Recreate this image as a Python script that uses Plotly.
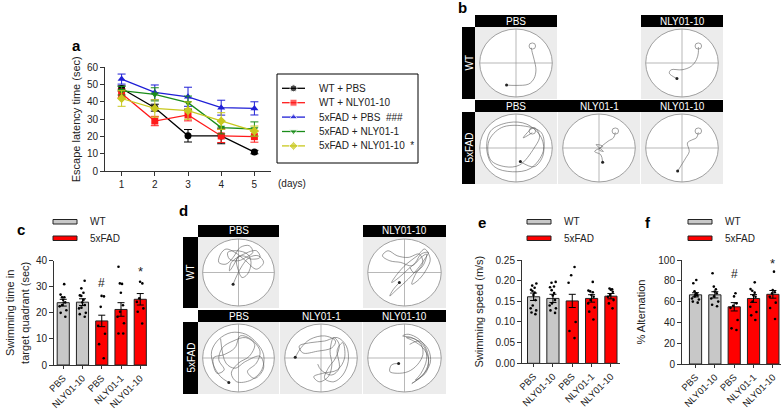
import plotly.graph_objects as go

W, H = 783, 410
FONT = "Liberation Sans, Arial, sans-serif"
GREY_BAR = "#c8c8c8"
RED_BAR = "#ff0000"

# ---------------- Panel a data ----------------
days = [1, 2, 3, 4, 5]
a_names = ["WT + PBS", "WT + NLY01-10", "5xFAD + PBS  ###", "5xFAD + NLY01-1", "5xFAD + NLY01-10  *"]
a_wt_pbs = [47.8, 36.7, 20.5, 20.4, 11.1]
a_wt_pbs_err = [1.5, 2.0, 3.6, 4.5, 1.0]
a_wt_nly10 = [44.9, 29.0, 32.5, 20.4, 20.0]
a_wt_nly10_err = [2.5, 2.7, 3.4, 3.8, 3.2]
a_fad_pbs = [53.2, 45.5, 43.0, 36.7, 36.3]
a_fad_pbs_err = [2.9, 4.3, 5.5, 4.3, 3.8]
a_fad_nly1 = [46.5, 44.4, 39.6, 25.2, 24.4]
a_fad_nly1_err = [2.5, 3.8, 3.8, 3.6, 4.1]
a_fad_nly10 = [42.0, 36.3, 35.0, 29.0, 23.2]
a_fad_nly10_err = [4.5, 5.0, 5.0, 4.8, 2.9]
a_colors = ["#000000", "#ff1a1a", "#1f1fd6", "#1a8c1a", "#c8c81e"]
a_symbols = ["circle", "square", "triangle-up", "triangle-down", "diamond"]

# ---------------- Bar panels (c, e, f) ----------------
bar_ticks = ["PBS", "NLY01-10", "PBS", "NLY01-1", "NLY01-10"]
bar_colors = [GREY_BAR, GREY_BAR, RED_BAR, RED_BAR, RED_BAR]

c_means = [23.9, 24.1, 16.9, 21.3, 25.2]
c_sem = [1.3, 1.3, 2.2, 2.6, 2.2]
c_pts_wt_pbs = [31, 27, 26, 26, 25, 24, 23, 22.5, 21, 20, 18.5]
c_pts_wt_nly10 = [32.3, 29.4, 27.7, 26.7, 26.5, 25, 24, 23, 22, 21.7, 20, 19.5, 18.5]
c_pts_fad_pbs = [26.5, 26.3, 22.3, 15, 12, 8, 2.6]
c_pts_fad_nly1 = [37.7, 31.3, 31.1, 27.7, 22.9, 20.4, 18.5, 16, 12.1, 12.1]
c_pts_fad_nly10 = [31.9, 31.3, 25.6, 24.2, 21.7, 20.4, 15.9]

e_means = [0.161, 0.157, 0.151, 0.157, 0.1625]
e_sem = [0.009, 0.010, 0.016, 0.009, 0.0065]
e_pts_wt_pbs = [0.193, 0.188, 0.183, 0.178, 0.175, 0.171, 0.165, 0.153, 0.14, 0.133, 0.128, 0.123, 0.119]
e_pts_wt_nly10 = [0.197, 0.195, 0.186, 0.184, 0.177, 0.17, 0.164, 0.153, 0.145, 0.14, 0.133, 0.128, 0.122]
e_pts_fad_pbs = [0.233, 0.213, 0.195, 0.1, 0.078, 0.061]
e_pts_fad_nly1 = [0.197, 0.176, 0.174, 0.172, 0.165, 0.161, 0.153, 0.145, 0.135, 0.125, 0.106]
e_pts_fad_nly10 = [0.181, 0.179, 0.178, 0.173, 0.165, 0.161, 0.153, 0.145, 0.133]

f_means = [66.5, 66.5, 55.0, 63.0, 67.0]
f_sem = [2.0, 3.0, 4.0, 3.7, 3.7]
f_pts_wt_pbs = [80.8, 77.6, 70, 68, 67, 66, 65, 63, 62, 60, 59]
f_pts_wt_nly10 = [87.2, 74.4, 71.8, 69.6, 68, 65, 63, 60, 57, 55.5]
f_pts_fad_pbs = [68, 65, 58.3, 56, 54, 42.3, 34.3, 32.7]
f_pts_fad_nly1 = [78.5, 72, 70.5, 68.6, 66, 64.7, 60, 55, 50, 46.8, 42.3]
f_pts_fad_nly10 = [88.8, 71, 69, 67.9, 64.7, 59, 53.8, 43.3]

# ---------------- Swim paths (normalised pool coords) ----------------
b_wt_pbs_x = [-0.26, 0.0, 0.35, 0.5, 0.55, 0.5, 0.45, 0.42]
b_wt_pbs_y = [-0.65, -0.66, -0.62, -0.45, -0.2, 0.1, 0.3, 0.45]
b_wt_nly10_x = [-0.14, -0.35, -0.3, 0.0, 0.25, 0.4, 0.45, 0.45]
b_wt_nly10_y = [-0.46, -0.3, -0.2, -0.2, -0.1, 0.1, 0.3, 0.47]
b_fad_pbs_x = [0.12, 0.5, 0.75, 0.7, 0.3, -0.2, -0.7, -0.8, -0.6, -0.1, 0.4, 0.75, 0.7, 0.2, -0.4,
               -0.75, -0.7, -0.3, 0.1, 0.5, 0.65, 0.5, 0.2, 0.45]
b_fad_pbs_y = [-0.4, -0.55, -0.2, 0.3, 0.7, 0.75, 0.5, -0.1, -0.55, -0.7, -0.6, -0.1, 0.45, 0.65, 0.6,
               0.2, -0.35, -0.55, -0.5, 0.0, 0.35, 0.6, 0.3, 0.45]
b_fad_nly1_x = [0.1, 0.05, -0.12, 0.1, -0.08, 0.12, 0.0, 0.25, 0.4, 0.45]
b_fad_nly1_y = [-0.42, -0.2, -0.1, 0.05, 0.1, -0.1, -0.05, 0.2, 0.3, 0.46]
b_fad_nly10_x = [-0.12, 0.1, 0.2, 0.15, 0.3, 0.4, 0.45]
b_fad_nly10_y = [-0.68, -0.3, -0.1, 0.15, 0.25, 0.3, 0.46]

d_wt_pbs_x = [-0.15, -0.05, 0.1, 0.3, 0.55, 0.7, 0.5, 0.2, -0.1, -0.35, -0.5, -0.55, -0.35, -0.15, 0.05,
              0.3, 0.4, 0.2, 0.0, -0.25, -0.3, -0.05, 0.25, 0.35, 0.25, 0.1, 0.0, -0.05, 0.15, 0.5,
              0.6, 0.35, 0.1, -0.2, -0.25, -0.15, 0.0]
d_wt_pbs_y = [-0.35, -0.1, 0.2, 0.45, 0.5, 0.3, 0.1, 0.35, 0.6, 0.7, 0.55, 0.3, 0.25, 0.45, 0.75,
              0.8, 0.6, 0.45, 0.35, 0.4, 0.6, 0.65, 0.55, 0.3, -0.05, -0.15, 0.05, 0.4, 0.55, 0.65,
              0.45, 0.4, 0.5, 0.3, 0.05, 0.2, 0.5]
d_wt_nly10_x = [-0.14, -0.3, -0.4, -0.2, 0.1, 0.35, 0.55, 0.65, 0.45, 0.3, 0.1, -0.15, -0.35, -0.2, 0.05,
                0.35, 0.55, 0.7, 0.6, 0.4, 0.2, 0.3, 0.5, 0.4, 0.1, -0.2, -0.45, -0.6, -0.4, -0.1,
                0.2, 0.45, 0.6, 0.5, 0.25, 0.15]
d_wt_nly10_y = [-0.3, -0.5, -0.7, -0.5, -0.2, 0.1, 0.4, 0.6, 0.55, 0.3, 0.1, -0.15, -0.3, -0.05, 0.25,
                0.5, 0.7, 0.4, 0.1, -0.2, -0.35, -0.05, 0.3, 0.55, 0.45, 0.5, 0.65, 0.5, 0.35, 0.3,
                0.2, 0.45, 0.55, 0.2, 0.0, 0.15]
d_fad_pbs_x = [-0.27, -0.5, -0.7, -0.75, -0.55, -0.2, 0.2, 0.5, 0.7, 0.65, 0.35, -0.05, -0.2, 0.0, 0.3,
               0.45, 0.2, -0.15, -0.45, -0.55, -0.4, -0.6, -0.7, -0.4, -0.1, 0.05, 0.35, 0.6, 0.5,
               0.25, 0.45, 0.7, 0.6, 0.2, -0.1, -0.35, -0.5]
d_fad_pbs_y = [-0.72, -0.55, -0.2, 0.2, 0.55, 0.75, 0.7, 0.45, 0.1, -0.35, -0.65, -0.7, -0.45, -0.15, 0.05,
               0.4, 0.6, 0.5, 0.3, -0.05, -0.35, -0.45, 0.0, 0.1, 0.3, 0.65, 0.55, 0.2, -0.15,
               -0.4, -0.6, -0.3, 0.05, -0.1, -0.3, -0.15, 0.57]
d_fad_nly1_x = [-0.71, -0.55, -0.3, 0.1, 0.4, 0.3, -0.1, -0.5, -0.6, -0.3, 0.1, 0.45, 0.7, 0.75, 0.6,
                0.35, 0.1, 0.2, 0.4, 0.5, 0.35, 0.25, 0.3, 0.2, -0.05, -0.2, 0.05, 0.45, 0.65, 0.6,
                0.45, 0.5, 0.3, 0.0, -0.09]
d_fad_nly1_y = [0.02, 0.3, 0.55, 0.65, 0.5, 0.3, 0.2, 0.15, 0.35, 0.45, 0.5, 0.6, 0.35, -0.1, -0.5,
                -0.7, -0.6, -0.3, 0.0, 0.4, 0.6, 0.2, -0.2, -0.55, -0.7, -0.55, -0.45, -0.35, 0.0, 0.45,
                0.25, -0.3, -0.5, -0.35, -0.18]
d_fad_nly10_x = [-0.16, -0.35, -0.4, -0.2, 0.1, 0.35, 0.5, 0.45, 0.2, -0.05, 0.1, 0.4, 0.6, 0.65, 0.5,
                 0.3, 0.45, 0.6, 0.55, 0.3, 0.05, 0.25, 0.5, 0.65, 0.6, 0.4, 0.2, 0.45, 0.7, 0.65,
                 0.4, 0.14]
d_fad_nly10_y = [-0.16, -0.2, -0.4, -0.45, -0.4, -0.2, 0.1, 0.4, 0.6, 0.65, 0.7, 0.55, 0.25, -0.15, -0.5,
                 -0.65, -0.45, -0.05, 0.3, 0.55, 0.6, 0.5, 0.3, 0.0, -0.4, -0.6, -0.75, -0.55, -0.15, 0.25,
                 0.5, 0.4]


def pxx(x):
    return x / W


def pyy(y):
    return 1 - y / H


fig = go.Figure()
layout = dict(
    width=W, height=H, autosize=False,
    margin=dict(l=0, r=0, t=0, b=0, pad=0, autoexpand=False),
    paper_bgcolor="white", plot_bgcolor="rgba(0,0,0,0)",
    font=dict(family=FONT, size=10, color="#222"),
    showlegend=False,
)
shapes = []
annotations = []

AXCOL = "#333"


def note(x, y, text, size=10, color="#222", xanchor="center", **kw):
    d = dict(x=pxx(x), y=pyy(y), xref="paper", yref="paper", text=text, showarrow=False,
             xanchor=xanchor, yanchor="middle", font=dict(size=size, color=color, family=FONT))
    d.update(kw)
    annotations.append(d)


def num_axis(domain, rng, **kw):
    d = dict(domain=domain, range=rng, showgrid=False, zeroline=False, showline=True,
             linecolor=AXCOL, linewidth=1, ticks="outside", ticklen=4, tickcolor=AXCOL,
             automargin=False, fixedrange=True,
             tickfont=dict(size=10, family=FONT, color="#222"))
    d.update(kw)
    return d


# ---------------- Panel a ----------------
layout["xaxis"] = num_axis([pxx(105), pxx(271)], [0.5, 5.5], tickvals=days, anchor="y")
layout["yaxis"] = num_axis([pyy(171.3), pyy(67.3)], [0, 60], tickvals=[0, 10, 20, 30, 40, 50, 60],
                           anchor="x", title=dict(text="Escape latency time (sec)", font=dict(size=11), standoff=4))
a_series = [a_wt_pbs, a_wt_nly10, a_fad_pbs, a_fad_nly1, a_fad_nly10]
a_errs = [a_wt_pbs_err, a_wt_nly10_err, a_fad_pbs_err, a_fad_nly1_err, a_fad_nly10_err]
for vals, errs, col, sym, name in zip(a_series, a_errs, a_colors, a_symbols, a_names):
    fig.add_trace(go.Scatter(x=days, y=vals, mode="lines+markers", name=name,
                             line=dict(color=col, width=1.3),
                             marker=dict(color=col, symbol=sym, size=7),
                             error_y=dict(type="data", array=errs, color=col, thickness=1, width=4),
                             xaxis="x", yaxis="y", cliponaxis=False))
note(276, 183.5, "(days)", xanchor="left")

# ---------------- Overlay pixel axis (legends) ----------------
layout["xaxis15"] = dict(domain=[0, 1], range=[0, W], visible=False, fixedrange=True, anchor="y15",
                         automargin=False)
layout["yaxis15"] = dict(domain=[0, 1], range=[H, 0], visible=False, fixedrange=True, anchor="x15",
                         automargin=False)
shapes.append(dict(type="rect", xref="paper", yref="paper", x0=pxx(277), x1=pxx(418), y0=pyy(163), y1=pyy(74),
                   line=dict(color="black", width=1), fillcolor="rgba(0,0,0,0)"))
for i, (col, sym, name) in enumerate(zip(a_colors, a_symbols, a_names)):
    yy = 88.3 + i * 14.4
    fig.add_trace(go.Scatter(x=[282, 293.5, 305], y=[yy, yy, yy], mode="lines+markers",
                             line=dict(color=col, width=1.3),
                             marker=dict(color=col, symbol=sym, size=[0, 7, 0]),
                             xaxis="x15", yaxis="y15", hoverinfo="skip"))
    note(317, yy, name, xanchor="left")

# ---------------- Bar panels ----------------
def bar_panel(idx, xdom, ydom, yrng, ytickvals, yticktext, ytitle, standoff, means, sems, pts_lists, xr):
    xa = "xaxis%d" % idx
    ya = "yaxis%d" % idx
    layout[xa] = num_axis([pxx(xdom[0]), pxx(xdom[1])], xr, tickvals=[0, 1, 2, 3, 4],
                          ticktext=bar_ticks, tickangle=-45, anchor="y%d" % idx, ticklen=3,
                          tickfont=dict(size=9.5, family=FONT, color="#222"))
    layout[ya] = num_axis([pyy(ydom[1]), pyy(ydom[0])], yrng, tickvals=ytickvals, ticktext=yticktext,
                          anchor="x%d" % idx, title=dict(text=ytitle, font=dict(size=11), standoff=standoff))
    fig.add_trace(go.Bar(x=[0, 1, 2, 3, 4], y=means, width=0.63,
                         marker=dict(color=bar_colors, line=dict(color="#222", width=1)),
                         error_y=dict(type="data", array=sems, color="black", thickness=1, width=3.5),
                         xaxis="x%d" % idx, yaxis="y%d" % idx))
    for i, pts in enumerate(pts_lists):
        fig.add_trace(go.Box(x=[i] * len(pts), y=pts, boxpoints="all", jitter=0.9, pointpos=0,
                             width=0.5, fillcolor="rgba(0,0,0,0)", line=dict(color="rgba(0,0,0,0)", width=0),
                             marker=dict(color="black", size=2.6), xaxis="x%d" % idx, yaxis="y%d" % idx,
                             hoverinfo="skip"))


bar_panel(2, (54, 147), (260.7, 365), [0, 40], [0, 10, 20, 30, 40], None,
          "Swimming time in<br>target quadrant (sec)", 4, c_means, c_sem,
          [c_pts_wt_pbs, c_pts_wt_nly10, c_pts_fad_pbs, c_pts_fad_nly1, c_pts_fad_nly10], [-0.48, 4.35])
bar_panel(3, (522, 620), (260, 363.3), [0, 0.25], [0, 0.05, 0.10, 0.15, 0.20, 0.25],
          ["0.00", "0.05", "0.10", "0.15", "0.20", "0.25"],
          "Swimming speed (m/s)", 9, e_means, e_sem,
          [e_pts_wt_pbs, e_pts_wt_nly10, e_pts_fad_pbs, e_pts_fad_nly1, e_pts_fad_nly10], [-0.6, 4.47])
bar_panel(4, (682, 781), (260, 364), [0, 100], [0, 20, 40, 60, 80, 100], None,
          "% Alternation", 10, f_means, f_sem,
          [f_pts_wt_pbs, f_pts_wt_nly10, f_pts_fad_pbs, f_pts_fad_nly1, f_pts_fad_nly10], [-0.7, 4.42])

# significance marks
for ax, xv, yv, txt, sz in [("2", 2, 31.3, "#", 12), ("2", 4, 36.0, "*", 13),
                            ("4", 2, 86.5, "#", 12), ("4", 4, 97.0, "*", 13)]:
    annotations.append(dict(x=xv, y=yv, xref="x" + ax, yref="y" + ax, text=txt, showarrow=False,
                            xanchor="center", yanchor="middle", font=dict(size=sz, color="#222", family=FONT)))

# bar legends
for lx, tx in [(53, 88), (527, 562), (688, 723)]:
    shapes.append(dict(type="rect", xref="paper", yref="paper", x0=pxx(lx), x1=pxx(lx + 24),
                       y0=pyy(224), y1=pyy(219.5), fillcolor=GREY_BAR, line=dict(color="#222", width=1)))
    shapes.append(dict(type="rect", xref="paper", yref="paper", x0=pxx(lx), x1=pxx(lx + 24),
                       y0=pyy(240.5), y1=pyy(236), fillcolor=RED_BAR, line=dict(color="#222", width=1)))
    note(tx, 221.7, "WT", xanchor="left")
    note(tx, 238.3, "5xFAD", xanchor="left")

# ---------------- Swim path panels ----------------
def pool(idx, x0, x1, y0, y1, px_, py_, platform):
    xa = "xaxis%d" % idx
    ya = "yaxis%d" % idx
    layout[xa] = dict(domain=[pxx(x0), pxx(x1)], range=[-1.13, 1.13], visible=False, fixedrange=True,
                      anchor="y%d" % idx, automargin=False)
    layout[ya] = dict(domain=[pyy(y1), pyy(y0)], range=[-1.06, 1.06], visible=False, fixedrange=True,
                      anchor="x%d" % idx, automargin=False)
    shapes.append(dict(type="rect", xref="paper", yref="paper", x0=pxx(x0), x1=pxx(x1), y0=pyy(y1),
                       y1=pyy(y0), fillcolor="#ececec", line=dict(width=0), layer="below"))
    xr, yr = "x%d" % idx, "y%d" % idx
    shapes.append(dict(type="circle", xref=xr, yref=yr, x0=-1, x1=1, y0=-1, y1=1,
                       fillcolor="white", line=dict(color="#8a8a8a", width=0.8), layer="below"))
    shapes.append(dict(type="line", xref=xr, yref=yr, x0=0, x1=0, y0=-1, y1=1,
                       line=dict(color="#9a9a9a", width=0.7), layer="below"))
    shapes.append(dict(type="line", xref=xr, yref=yr, x0=-1, x1=1, y0=0, y1=0,
                       line=dict(color="#9a9a9a", width=0.7), layer="below"))
    if platform:
        shapes.append(dict(type="circle", xref=xr, yref=yr, x0=0.36, x1=0.54, y0=0.41, y1=0.59,
                           line=dict(color="#777", width=0.7)))
    fig.add_trace(go.Scatter(x=px_, y=py_, mode="lines", line=dict(color="#5a5a5a", width=0.6, shape="spline"),
                             xaxis=xr, yaxis=yr, hoverinfo="skip"))
    fig.add_trace(go.Scatter(x=[px_[0]], y=[py_[0]], mode="markers", marker=dict(color="#222", size=3),
                             xaxis=xr, yaxis=yr, hoverinfo="skip"))


def header(x0, x1, y0, y1, labels, centers):
    shapes.append(dict(type="rect", xref="paper", yref="paper", x0=pxx(x0), x1=pxx(x1), y0=pyy(y1),
                       y1=pyy(y0), fillcolor="black", line=dict(width=0)))
    for lab, cx in zip(labels, centers):
        note(cx, (y0 + y1) / 2, lab, color="white")


def side(x0, x1, y0, y1, label):
    shapes.append(dict(type="rect", xref="paper", yref="paper", x0=pxx(x0), x1=pxx(x1), y0=pyy(y1),
                       y1=pyy(y0), fillcolor="black", line=dict(width=0)))
    note((x0 + x1) / 2, (y0 + y1) / 2, label, color="white", textangle=-90)


# panel b
header(475, 557, 15, 27, ["PBS"], [516])
header(641, 723, 15, 27, ["NLY01-10"], [682])
header(475, 723, 100, 112, ["PBS", "NLY01-1", "NLY01-10"], [516, 599, 682])
side(462, 475, 27, 99, "WT")
side(462, 475, 112, 184, "5xFAD")
pool(5, 475, 557, 27, 99, b_wt_pbs_x, b_wt_pbs_y, True)
pool(6, 641, 723, 27, 99, b_wt_nly10_x, b_wt_nly10_y, True)
pool(7, 475, 557, 112, 184, b_fad_pbs_x, b_fad_pbs_y, True)
pool(8, 558, 640, 112, 184, b_fad_nly1_x, b_fad_nly1_y, True)
pool(9, 641, 723, 112, 184, b_fad_nly10_x, b_fad_nly10_y, True)

# panel d
header(198, 279, 225, 237, ["PBS"], [238.5])
header(363, 446, 225, 237, ["NLY01-10"], [404.5])
header(198, 446, 310, 322, ["PBS", "NLY01-1", "NLY01-10"], [238.5, 321, 404.5])
side(183, 198, 237, 308, "WT")
side(183, 198, 322, 394, "5xFAD")
pool(10, 198, 279, 237, 308, d_wt_pbs_x, d_wt_pbs_y, False)
pool(11, 363, 446, 237, 308, d_wt_nly10_x, d_wt_nly10_y, False)
pool(12, 198, 279, 322, 394, d_fad_pbs_x, d_fad_pbs_y, False)
pool(13, 280, 362, 322, 394, d_fad_nly1_x, d_fad_nly1_y, False)
pool(14, 363, 446, 322, 394, d_fad_nly10_x, d_fad_nly10_y, False)

# panel letters
for lab, x, y in [("a", 76, 46), ("b", 462, 7), ("c", 21, 229), ("d", 183, 210), ("e", 482, 222), ("f", 648, 222)]:
    note(x, y, "<b>%s</b>" % lab, size=15, color="black")

layout["shapes"] = shapes
layout["annotations"] = annotations
fig.update_layout(**layout)
fig.write_html("out.html", config={"responsive": False, "displayModeBar": False},
               post_script="document.body.style.margin='0px';document.body.style.padding='0px';")
